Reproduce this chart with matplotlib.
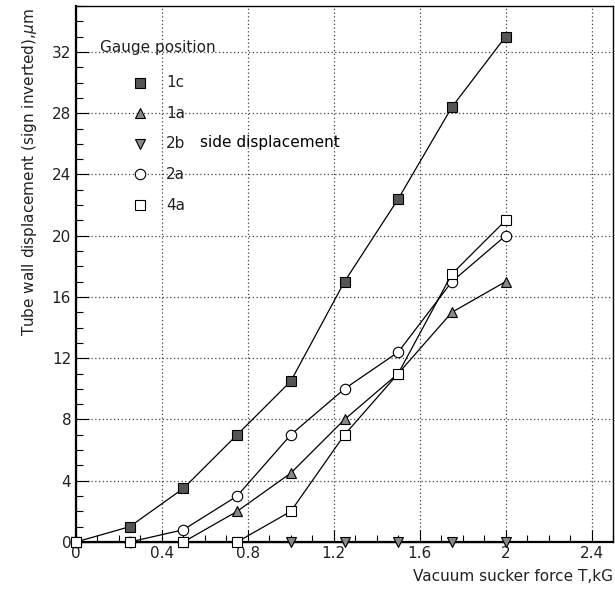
import numpy as np
import matplotlib
matplotlib.use("Agg")
import matplotlib.pyplot as plt
from matplotlib.ticker import MultipleLocator

# force, kG
force = [0, 0.25, 0.5, 0.75, 1.0, 1.25, 1.5, 1.75, 2.0]

# displacement (sign inverted), um
g1c = [0, 1.0, 3.5, 7.0, 10.5, 17.0, 22.4, 28.4, 33.0]
g1a = [0, 0, 0, 2.0, 4.5, 8.0, 11.0, 15.0, 17.0]
g2b = [0, 0, 0, 0, 0, 0, 0, 0, 0]
g2a = [0, 0, 0.8, 3.0, 7.0, 10.0, 12.4, 17.0, 20.0]
g4a = [0, 0, 0, 0, 2.0, 7.0, 11.0, 17.5, 21.0]

labels = ['1c', '1a', '2b', '2a', '4a']
series = [g1c, g1a, g2b, g2a, g4a]
markers = ['s', '^', 'v', 'o', 's']
faces = ['#555555', '#888888', '#888888', 'white', 'white']

plt.rcParams['font.family'] = ['DejaVu Sans']
fig = plt.figure(figsize=(6.15, 5.94), dpi=100)
ax = fig.add_axes([76/615, 52/594, 537/615, 536/594])

for y, m, fc in zip(series, markers, faces):
    ax.plot(force, y, color='black', lw=0.9, marker=m, ms=7.5,
            mfc=fc, mec='black', mew=0.8, clip_on=False, zorder=3)

ax.set_xlim(0, 2.5)
ax.set_ylim(0, 35)
ax.xaxis.set_major_locator(MultipleLocator(0.4))
ax.xaxis.set_minor_locator(MultipleLocator(0.1))
ax.yaxis.set_major_locator(MultipleLocator(4))
ax.yaxis.set_minor_locator(MultipleLocator(1))
ax.set_xticks(np.arange(0, 2.41, 0.4))
ax.set_xticklabels(['0', '0.4', '0.8', '1.2', '1.6', '2', '2.4'])
ax.grid(True, which='major', linestyle=(0, (1, 2)), color='#444444', lw=0.9)
ax.tick_params(which='both', direction='in', top=False, right=False,
               labelsize=11, labelcolor='#222222')
ax.tick_params(which='major', length=9, width=0.8)
ax.tick_params(which='minor', length=5, width=0.8)
ax.tick_params(axis='x', pad=3)
for s in ['left', 'bottom']:
    ax.spines[s].set_linewidth(1.6)
for s in ['top', 'right']:
    ax.spines[s].set_linewidth(1.0)

ax.set_xlabel('Vacuum sucker force T,kG', fontsize=11, color='#222222')
ax.xaxis.set_label_coords(1.0, -0.05)
ax.xaxis.label.set_horizontalalignment('right')
ax.set_ylabel(r'Tube wall displacement (sign inverted),$\mu$m', fontsize=11,
              color='#222222')
ax.yaxis.set_label_coords(-0.105, 0.995)
ax.yaxis.label.set_verticalalignment('top')
ax.yaxis.label.set_horizontalalignment('right')

# hand-made legend
ax.text(0.112, 32.3, 'Gauge position', fontsize=11, color='#222222', va='center')
rows = [30, 28, 26, 24, 22]
for r, lab, m, fc in zip(rows, labels, markers, faces):
    ax.plot([0.298], [r], marker=m, ms=7.5, mfc=fc, mec='black', mew=0.8,
            ls='none', zorder=3)
    ax.text(0.419, r, lab, fontsize=11, color='#222222', va='center')
ax.text(0.577, 26.1, 'side displacement', fontsize=11, color='black', va='center')

fig.savefig('out.png', dpi=100)
